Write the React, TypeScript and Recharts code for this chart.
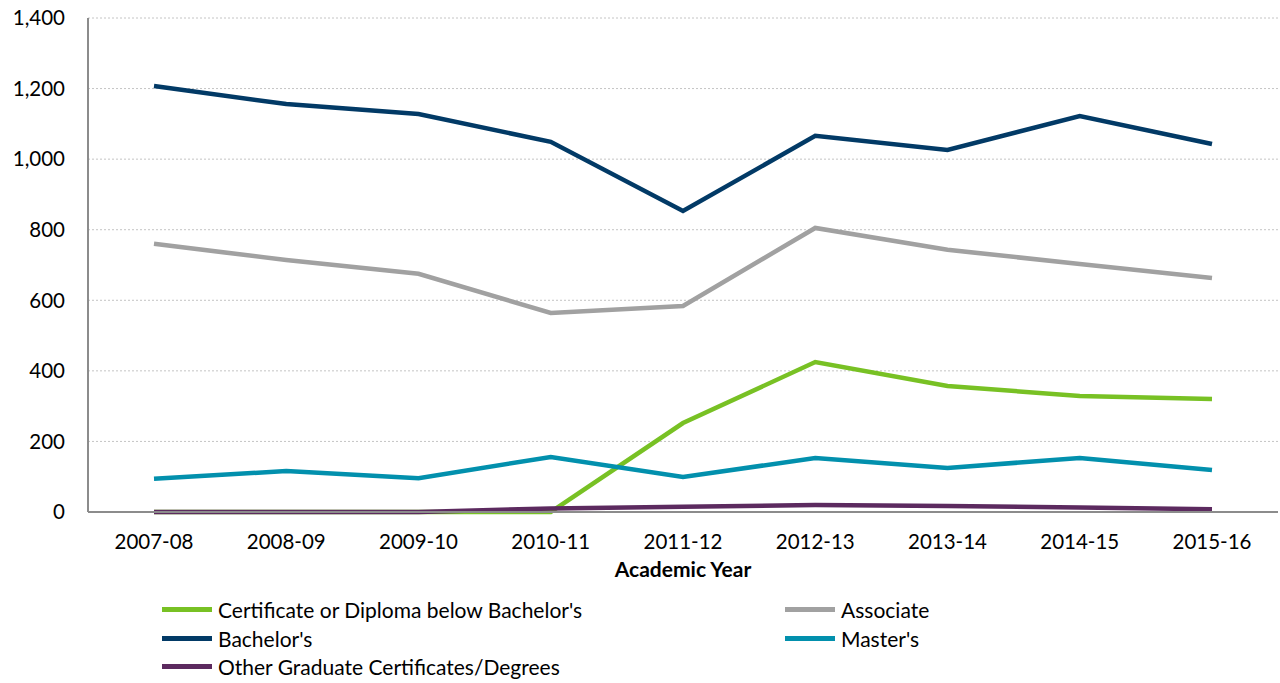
import { CartesianGrid, Line, LineChart, XAxis, YAxis } from "recharts";

const years = ["2007-08", "2008-09", "2009-10", "2010-11", "2011-12", "2012-13", "2013-14", "2014-15", "2015-16"];
const certificate = [0, 0, 0, 0, 252, 425, 357, 329, 320];
const associate = [760, 714, 675, 564, 584, 805, 743, 703, 663];
const bachelors = [1207, 1156, 1128, 1049, 853, 1066, 1026, 1122, 1043];
const masters = [94, 116, 96, 156, 99, 153, 125, 153, 119];
const otherGrad = [0, 0, 0, 10, 15, 20, 17, 13, 8];
const yTicks = [0, 200, 400, 600, 800, 1000, 1200, 1400];

const series = [
  { key: "certificate", name: "Certificate or Diploma below Bachelor's", color: "#78c124" },
  { key: "associate", name: "Associate", color: "#a1a1a1" },
  { key: "bachelors", name: "Bachelor's", color: "#023a66" },
  { key: "masters", name: "Master's", color: "#0290ad" },
  { key: "otherGrad", name: "Other Graduate Certificates/Degrees", color: "#5c2a5f" },
];

const data = years.map((year, i) => ({
  year,
  certificate: certificate[i],
  associate: associate[i],
  bachelors: bachelors[i],
  masters: masters[i],
  otherGrad: otherGrad[i],
}));

const font = "Lato, 'Open Sans', sans-serif";
const axisGrey = "#8c8c8c";

// legend laid out in two columns like the original
const legendPos = [
  { left: 162, top: 609 },
  { left: 785, top: 609 },
  { left: 162, top: 638 },
  { left: 785, top: 638 },
  { left: 162, top: 666 },
];

export default function App() {
  return (
    <div style={{ position: "absolute", left: 0, top: 0, width: 1280, height: 683, background: "#fff", fontFamily: font }}>
      <LineChart width={1280} height={580} data={data} margin={{ top: 18, right: 2, left: 0, bottom: 0 }}>
        <CartesianGrid vertical={false} stroke="#c4c4c4" strokeDasharray="2 2" />
        <XAxis
          dataKey="year"
          height={68}
          padding={{ left: 66, right: 66 }}
          stroke={axisGrey}
          strokeWidth={2}
          tickLine={false}
          tickSize={0}
          tickMargin={22}
          tick={{ fill: "#000", fontSize: 20.5, fontFamily: font }}
          label={{ value: "Academic Year", position: "insideBottom", offset: 3, fill: "#000", fontSize: 21, fontWeight: 700, fontFamily: font }}
        />
        <YAxis
          width={88}
          domain={[0, 1400]}
          ticks={yTicks}
          stroke={axisGrey}
          strokeWidth={2}
          tickLine={false}
          tickSize={0}
          tickMargin={23}
          tick={{ fill: "#000", fontSize: 20.5, fontFamily: font }}
          tickFormatter={(v) => v.toLocaleString("en-US")}
        />
        {series.map((s) => (
          <Line
            key={s.key}
            type="linear"
            dataKey={s.key}
            name={s.name}
            stroke={s.color}
            strokeWidth={4.5}
            dot={false}
            activeDot={false}
            isAnimationActive={false}
          />
        ))}
      </LineChart>
      {series.map((s, i) => (
        <div
          key={s.key}
          style={{
            position: "absolute",
            left: legendPos[i].left,
            top: legendPos[i].top - 12,
            height: 24,
            display: "flex",
            alignItems: "center",
            fontSize: 21,
            color: "#000",
            whiteSpace: "nowrap",
          }}
        >
          <div style={{ width: 50, height: 5, background: s.color, marginRight: 6 }} />
          {s.name}
        </div>
      ))}
    </div>
  );
}
